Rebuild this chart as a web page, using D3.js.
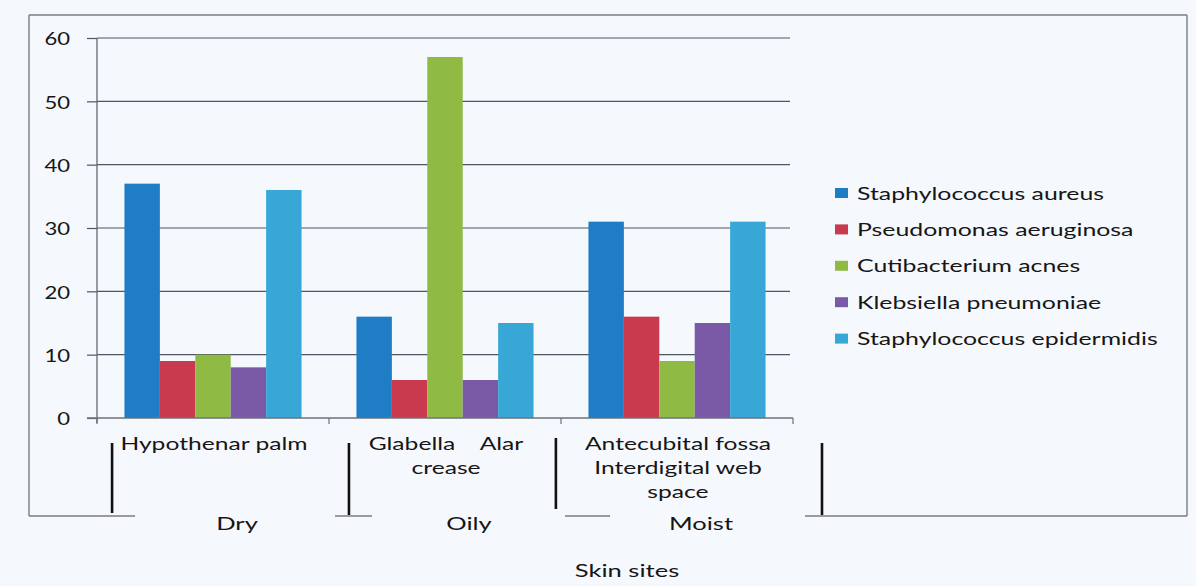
<!DOCTYPE html>
<html>
<head>
<meta charset="utf-8">
<script src="https://cdn.jsdelivr.net/npm/d3@7"></script>
<style>
  html, body { margin: 0; padding: 0; background: #f5f8fc; }
  svg { display: block; }
  text { font-family: Lato, "Open Sans", sans-serif; fill: #161616; }
</style>
</head>
<body>
<svg id="chart" width="1196" height="586"></svg>
<script>
// Skin-site groups (outer level) and the site names under each (inner level)
const groups = ["Dry", "Oily", "Moist"];
const siteLines = [
  ["Hypothenar palm"],
  ["Glabella    Alar", "crease"],
  ["Antecubital fossa", "Interdigital web", "space"]
];

// Organisms shown as series
const series = [
  "Staphylococcus aureus",
  "Pseudomonas aeruginosa",
  "Cutibacterium acnes",
  "Klebsiella pneumoniae",
  "Staphylococcus epidermidis"
];

// Percentage values per series, in the order Dry, Oily, Moist
const staphAureus = [37, 16, 31];
const pseudomonas = [9, 6, 16];
const cutibacterium = [10, 57, 9];
const klebsiella = [8, 6, 15];
const staphEpidermidis = [36, 15, 31];

const yTicks = [0, 10, 20, 30, 40, 50, 60];
const xTitle = "Skin sites";

const colors = ["#1f7dc6", "#c93a4e", "#8fbb45", "#7a5aa6", "#38a7d6"];

const values = [staphAureus, pseudomonas, cutibacterium, klebsiella, staphEpidermidis];
const table = groups.map((g, gi) => ({
  group: g,
  bars: series.map((s, si) => ({ series: s, value: values[si][gi] }))
}));

const svg = d3.select("#chart");

// plot area
const plotL = 97, plotR = 793, plotT = 38, plotB = 418;

const x0 = d3.scaleBand().domain(groups).range([plotL, plotR]).paddingInner(0).paddingOuter(0);
const x1 = d3.scaleBand().domain(series).range([0, x0.bandwidth()]).paddingInner(0).paddingOuter(0.775);
const y = d3.scaleLinear().domain([0, 60]).range([plotB, plotT]);
const color = d3.scaleOrdinal().domain(series).range(colors);

// horizontally stretched text helper
function place(sel, x, yy, sx) {
  sel.attr("transform", `translate(${x},${yy}) scale(${sx},1)`);
  return sel;
}

// outer frame of the chart area
const frame = svg.append("g").attr("stroke", "#7a7d82").attr("stroke-width", 1.4).attr("fill", "none");
const fL = 29, fT = 15, fR = 1187, fB = 516;
frame.append("line").attr("x1", fL).attr("y1", fT).attr("x2", fR).attr("y2", fT);
frame.append("line").attr("x1", fL).attr("y1", fT).attr("x2", fL).attr("y2", fB);
frame.append("line").attr("x1", fR).attr("y1", fT).attr("x2", fR).attr("y2", fB);
[[fL, 135], [335, 372], [565, 610], [805, fR]].forEach(([a, b]) =>
  frame.append("line").attr("x1", a).attr("y1", fB).attr("x2", b).attr("y2", fB));

// horizontal gridlines
svg.append("g")
  .selectAll("line")
  .data(yTicks.filter(d => d > 0))
  .join("line")
  .attr("x1", plotL).attr("x2", plotR - 3)
  .attr("y1", d => y(d)).attr("y2", d => y(d))
  .attr("stroke", "#4f5562").attr("stroke-width", 1.2);

// y axis
const yAxis = svg.append("g")
  .attr("transform", `translate(${plotL},0)`)
  .call(d3.axisLeft(y).tickValues(yTicks).tickSize(10).tickPadding(0).tickFormat(""));
yAxis.select(".domain").attr("d", `M0,${plotT}V${plotB + 5}`).attr("stroke", "#6e727a").attr("stroke-width", 1.4);
yAxis.selectAll(".tick line").attr("stroke", "#4f5562").attr("stroke-width", 1.2);

svg.append("g").selectAll("text")
  .data(yTicks)
  .join("text")
  .attr("text-anchor", "end")
  .attr("dominant-baseline", "central")
  .style("font-size", "17px")
  .text(d => d)
  .each(function (d) { place(d3.select(this), 70, y(d) + 1, 1.3); });

// bars
svg.append("g")
  .selectAll("g")
  .data(table)
  .join("g")
  .attr("transform", d => `translate(${x0(d.group)},0)`)
  .selectAll("rect")
  .data(d => d.bars)
  .join("rect")
  .attr("x", d => x1(d.series))
  .attr("width", x1.bandwidth())
  .attr("y", d => y(d.value))
  .attr("height", d => y(0) - y(d.value))
  .attr("fill", d => color(d.series));

// x axis baseline with group boundary ticks
const xAxisG = svg.append("g");
xAxisG.append("line")
  .attr("x1", plotL - 10).attr("x2", plotR)
  .attr("y1", plotB).attr("y2", plotB)
  .attr("stroke", "#6e727a").attr("stroke-width", 1.4);
xAxisG.selectAll("line.tick")
  .data([...groups.map(g => x0(g)), plotR])
  .join("line")
  .attr("class", "tick")
  .attr("x1", d => d).attr("x2", d => d)
  .attr("y1", plotB).attr("y2", plotB + 6)
  .attr("stroke", "#6e727a").attr("stroke-width", 1.2);

// inner-level labels (site names)
const lineGap = 24;
groups.forEach((g, gi) => {
  const cx = x0(g) + x0.bandwidth() / 2;
  siteLines[gi].forEach((ln, li) => {
    const t = svg.append("text")
      .attr("text-anchor", "middle")
      .style("font-size", "17px")
      .style("white-space", "pre")
      .text(ln);
    place(t, cx + 1, 450 + li * lineGap, 1.45);
  });
});

// group separators of the multi-level axis, in band units from the axis origin
const separators = [0.065, 1.086, 1.978, 3.125];
const band = d3.scaleLinear().domain([0, groups.length]).range([plotL, plotR]);
const sepSpans = [[443, 513], [443, 515], [438, 509], [443, 515]];
svg.append("g").selectAll("line")
  .data(separators)
  .join("line")
  .attr("x1", d => band(d)).attr("x2", d => band(d))
  .attr("y1", (d, i) => sepSpans[i][0]).attr("y2", (d, i) => sepSpans[i][1])
  .attr("stroke", "#111").attr("stroke-width", 2.6);

// outer-level labels (skin type)
groups.forEach(g => {
  const cx = x0(g) + x0.bandwidth() / 2 + 24;
  const t = svg.append("text")
    .attr("text-anchor", "middle")
    .style("font-size", "18px")
    .text(g);
  place(t, cx, 530, 1.42);
});

// axis title
place(svg.append("text")
  .attr("text-anchor", "middle")
  .style("font-size", "18px")
  .text(xTitle), 627, 577, 1.42);

// legend
const legend = svg.append("g").attr("transform", "translate(835,193)");
const row = legend.selectAll("g")
  .data(series)
  .join("g")
  .attr("transform", (d, i) => `translate(0,${i * 36.4})`);
row.append("rect")
  .attr("x", 0).attr("y", -5).attr("width", 13).attr("height", 10)
  .attr("fill", d => color(d));
row.append("text")
  .attr("dominant-baseline", "central")
  .style("font-size", "17.5px")
  .text(d => d)
  .each(function () { place(d3.select(this), 22, 0, 1.42); });
</script>
</body>
</html>
